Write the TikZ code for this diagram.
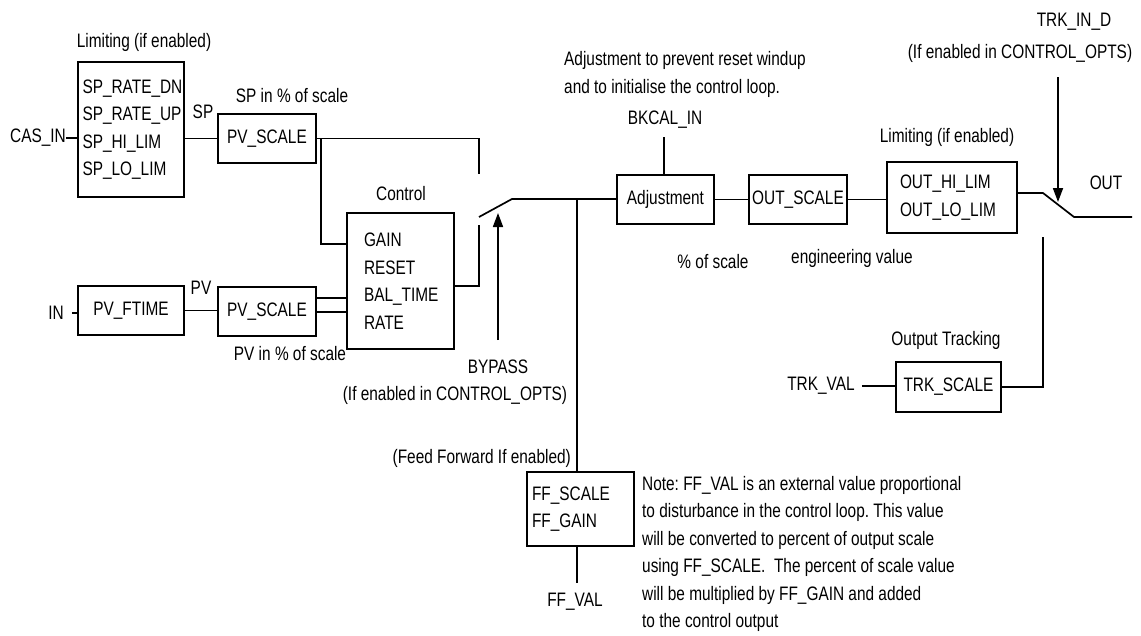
\documentclass[tikz,border=0pt]{standalone}
\usepackage{fontspec}
\setmainfont{Liberation Sans}[FakeStretch=0.79]
\usetikzlibrary{arrows.meta}
\frenchspacing
\begin{document}
\begin{tikzpicture}[x=1pt,y=-1pt,
  font=\fontsize{19.5pt}{27.5pt}\selectfont,
  lbl/.style={inner sep=0pt},
  box/.style={draw, line width=1.7pt, inner sep=0pt, align=center},
  lbox/.style={draw, line width=1.7pt, inner ysep=0pt, align=left},
  wire/.style={line width=1.7pt},
  arr/.style={line width=1.7pt, -{Triangle[length=14pt,width=10pt]}},
]
\fill[white] (0,0) rectangle (1141,635);
\useasboundingbox (0,0) rectangle (1141,635);

% boxes
\node[lbox, inner xsep=4.5pt, text width=97pt, minimum height=135pt] (lim1) at (131,129.5) {SP\_RATE\_DN\\SP\_RATE\_UP\\SP\_HI\_LIM\\SP\_LO\_LIM};
\node[box, minimum width=98pt, minimum height=49pt] (pvs1) at (267,138.5) {PV\_SCALE};
\node[box, minimum width=106pt, minimum height=49pt] (pvf) at (131,310.5) {PV\_FTIME};
\node[box, minimum width=98pt, minimum height=49pt] (pvs2) at (267,311.5) {PV\_SCALE};
\node[lbox, inner xsep=17pt, text width=73pt, minimum height=136pt] (ctrl) at (400.5,281) {GAIN\\RESET\\BAL\_TIME\\RATE};
\node[box, minimum width=97pt, minimum height=49pt] (adj) at (665.5,199.5) {Adjustment};
\node[box, minimum width=98pt, minimum height=49pt] (outs) at (798,199.5) {OUT\_SCALE};
\node[lbox, inner xsep=13pt, text width=104pt, minimum height=71pt] (lim2) at (952,197.5) {OUT\_HI\_LIM\\OUT\_LO\_LIM};
\node[box, minimum width=105pt, minimum height=50pt] (trks) at (948.5,387) {TRK\_SCALE};
\node[lbox, inner xsep=5pt, text width=97pt, minimum height=74pt] (ff) at (580.5,509) {FF\_SCALE\\FF\_GAIN};

% labels
\node[lbl] (limtxt1) at (144,42) {Limiting (if enabled)};
\node[lbl] (casin) at (38,138) {CAS\_IN};
\node[lbl] (sp) at (203,112) {SP};
\node[lbl] (spscale) at (292,96) {SP in \% of scale};
\node[lbl] (in) at (56,313) {IN};
\node[lbl] (pv) at (201,288) {PV};
\node[lbl] (pvscale) at (290,354) {PV in \% of scale};
\node[lbl] (ctrltxt) at (401,194) {Control};
\node[lbl] (bypass) at (498,367) {BYPASS};
\node[lbl] (bypassen) at (455,395) {(If enabled in CONTROL\_OPTS)};
\node[lbl, anchor=east] (fftxt) at (571,458) {(Feed Forward If enabled)};
\node[lbl, anchor=west, align=left] (adjtxt) at (564,74.5) {Adjustment to prevent reset windup\\and to initialise the control loop.};
\node[lbl] (bkcal) at (665,120) {BKCAL\_IN};
\node[lbl] (limtxt2) at (947,137) {Limiting (if enabled)};
\node[lbl] (trkind) at (1074,22) {TRK\_IN\_D};
\node[lbl] (trken) at (1020,53) {(If enabled in CONTROL\_OPTS)};
\node[lbl] (out) at (1106,183) {OUT};
\node[lbl] (pct) at (713,262) {\% of scale};
\node[lbl] (eng) at (852,258) {engineering value};
\node[lbl] (outtrk) at (946,340) {Output Tracking};
\node[lbl] (trkval) at (821,386) {TRK\_VAL};
\node[lbl] (ffval) at (575,602) {FF\_VAL};
\node[lbl, anchor=west, align=left] (note) at (642,554) {Note: FF\_VAL is an external value proportional\\to disturbance in the control loop. This value\\will be converted to percent of output scale\\using FF\_SCALE.\ \ The percent of scale value\\will be multiplied by FF\_GAIN and added\\to the control output};

% coordinates
\coordinate (j1) at (321,138.5);
\coordinate (swA) at (479,225);
\coordinate (swB) at (479,174);
\coordinate (swP) at (479,217);
\coordinate (swT) at (512,199);
\coordinate (ffj) at (577,199);
\coordinate (bypassbot) at (498,340);
\coordinate (byptip) at (498,213);
\coordinate (bkcalend) at (664,137);
\coordinate (ffvalend) at (577,583);
\coordinate (osw1) at (1043,193);
\coordinate (osw2) at (1074,217);
\coordinate (outend) at (1132,217);
\coordinate (trkarrtop) at (1058,77);
\coordinate (trkarrtip) at (1058,202);
\coordinate (trkup) at (1043,237);

% connectors
\draw[wire] (casin) -- (lim1.west |- casin);
\draw[wire] (lim1.east |- pvs1) -- (pvs1.west);
\draw[wire] (pvs1.east) -| (swB);
\draw[wire] (j1) |- (ctrl.west |- 0,244);
\draw[wire] ([xshift=8pt]in.east) -- (pvf.west |- in);
\draw[wire] (pvf.east) -- (pvs2.west |- pvf.east);
\draw[wire] (pvs2.east |- 0,298) -- (ctrl.west |- 0,298);
\draw[wire] (pvs2.east |- 0,312) -- (ctrl.west |- 0,312);
\draw[wire] (ctrl.east |- 0,286) -| (swA);
\draw[wire] (swP) -- (swT) -- (adj.west |- swT);
\draw[arr] (bypassbot) -- (byptip);
\draw[wire] (ffj) -- (ff.north -| ffj);
\draw[wire] (ff.south -| ffvalend) -- (ffvalend);
\draw[wire] (bkcalend) -- (adj.north -| bkcalend);
\draw[wire] (adj.east) -- (outs.west);
\draw[wire] (outs.east) -- (lim2.west |- outs.east);
\draw[wire] (lim2.east |- osw1) -- (osw1) -- (osw2) -- (outend);
\draw[arr] (trkarrtop) -- (trkarrtip);
\draw[wire] (trks.east) -| (trkup);
\draw[wire] ([xshift=7pt]trkval.east) -- (trks.west |- trkval);
\end{tikzpicture}
\end{document}
